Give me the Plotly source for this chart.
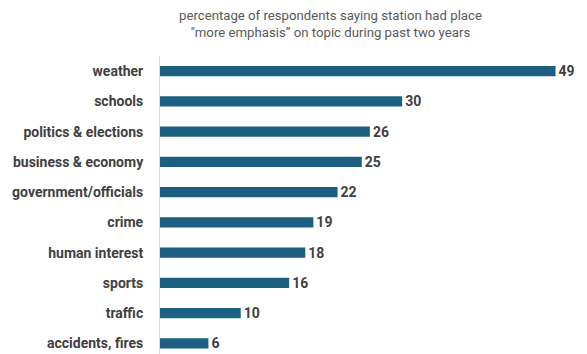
import plotly.graph_objects as go

topics = ["weather", "schools", "politics & elections", "business & economy",
          "government/officials", "crime", "human interest", "sports",
          "traffic", "accidents, fires"]
values = [49, 30, 26, 25, 22, 19, 18, 16, 10, 6]

title_text = "percentage of respondents saying station had place<br>\"more emphasis\u201d on topic during past two years"

# page body has an 8px default margin, so the figure is sized to fit inside it
fig = go.Figure(go.Bar(
    x=values, y=topics, orientation="h",
    marker=dict(color="#1d5f80", line=dict(width=0)),
    text=[str(v) for v in values], textposition="outside", constraintext="none",
    textfont=dict(family="Roboto", size=14, color="#404040", weight="bold"),
    cliponaxis=False, width=0.34,
))

fig.update_layout(
    width=579, height=346,
    margin=dict(l=152, r=0, t=48, b=0, autoexpand=False),
    paper_bgcolor="white", plot_bgcolor="white",
    showlegend=False,
    uniformtext=dict(minsize=13, mode="show"),
    xaxis=dict(range=[0, 52.9], visible=False, showgrid=False, zeroline=False, automargin=False),
    yaxis=dict(range=[9.35, -0.5], showline=True, linecolor="#d9d9d9", linewidth=1,
               ticks="", ticklabelstandoff=13, showgrid=False, automargin=False,
               tickfont=dict(family="Roboto", size=14, color="#404040", weight="bold")),
    annotations=[dict(text=title_text, xref="paper", yref="paper",
                      x=(322 - 152) / 427, y=1, yshift=50, xanchor="center", yanchor="top",
                      showarrow=False, align="center",
                      font=dict(family="Roboto", size=13.2, color="#595959"))],
)

fig.write_html("out.html")
